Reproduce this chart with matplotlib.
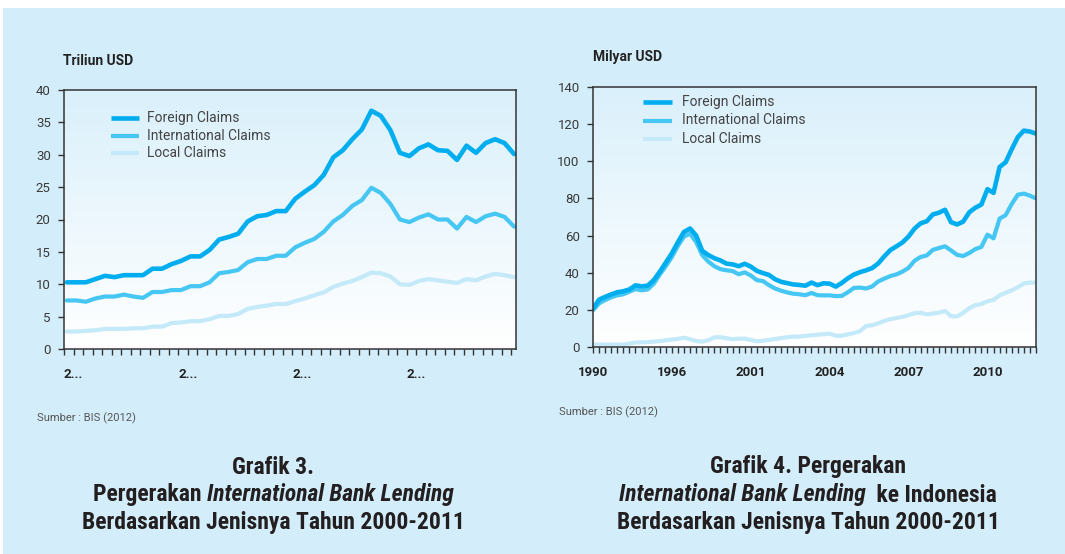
import numpy as np
import matplotlib
matplotlib.use("Agg")
import matplotlib.pyplot as plt
from matplotlib.lines import Line2D
from matplotlib import font_manager

# ---------------- data ----------------
# Grafik 3: international bank lending by type (trillion USD), quarterly 2000-2011
global_foreign = [10.3, 10.3, 10.3, 10.8, 11.3, 11.1, 11.4, 11.4, 11.4, 12.4, 12.4, 13.1,
                  13.6, 14.3, 14.3, 15.3, 16.9, 17.3, 17.8, 19.7, 20.5, 20.7, 21.3, 21.3,
                  23.2, 24.3, 25.3, 26.9, 29.6, 30.7, 32.4, 33.9, 36.8, 36.0, 33.8, 30.3,
                  29.8, 31.0, 31.6, 30.7, 30.6, 29.2, 31.4, 30.3, 31.8, 32.4, 31.8, 30.1]
global_international = [7.5, 7.5, 7.3, 7.8, 8.1, 8.1, 8.4, 8.1, 7.9, 8.8, 8.8, 9.1,
                        9.1, 9.7, 9.7, 10.3, 11.7, 11.9, 12.2, 13.4, 13.9, 13.9, 14.4, 14.4,
                        15.7, 16.4, 17.0, 18.1, 19.7, 20.7, 22.1, 23.0, 24.9, 24.1, 22.4, 20.0,
                        19.6, 20.3, 20.8, 20.0, 20.0, 18.6, 20.4, 19.6, 20.5, 20.9, 20.4, 18.9]
global_local = [2.7, 2.7, 2.8, 2.9, 3.1, 3.1, 3.1, 3.2, 3.2, 3.45, 3.45, 4.0,
                4.1, 4.3, 4.3, 4.6, 5.1, 5.1, 5.4, 6.2, 6.5, 6.7, 6.95, 6.95,
                7.4, 7.8, 8.3, 8.75, 9.6, 10.1, 10.5, 11.1, 11.8, 11.7, 11.2, 10.0,
                9.9, 10.5, 10.8, 10.6, 10.4, 10.2, 10.8, 10.6, 11.2, 11.6, 11.4, 11.1]
global_tick_labels = {0: "2...", 12: "2...", 24: "2...", 36: "2..."}

# Grafik 4: international bank lending to Indonesia (billion USD)
indo_foreign = [20.7, 25.5, 27.0, 28.3, 29.5, 30.0, 31.0, 33.2, 32.7, 33.0,
                36.0, 40.5, 45.5, 50.5, 56.5, 62.0, 63.8, 60.0, 51.8, 49.5,
                47.8, 46.6, 44.9, 44.5, 43.5, 44.8, 43.3, 41.0, 39.8, 38.8,
                36.5, 35.1, 34.4, 33.7, 33.4, 33.0, 34.7, 33.3, 34.3, 34.1,
                32.5, 34.5, 37.0, 39.0, 40.3, 41.3, 42.5, 45.0, 48.8, 52.2,
                54.2, 56.3, 59.5, 63.8, 66.6, 67.7, 71.4, 72.3, 73.9, 67.2,
                66.0, 67.5, 72.5, 75.0, 76.7, 85.0, 83.0, 96.9, 99.5, 106.5,
                113.0, 116.5, 116.0, 114.9]
indo_international = [19.8, 23.5, 25.3, 26.8, 27.8, 28.4, 29.8, 31.2, 30.5, 31.0,
                      34.0, 39.0, 43.5, 48.5, 54.5, 59.5, 61.0, 56.5, 49.5, 46.0,
                      43.5, 41.9, 41.3, 40.9, 39.2, 40.2, 38.5, 36.0, 35.5, 33.3,
                      31.5, 30.3, 29.4, 28.7, 28.4, 27.9, 29.1, 27.9, 27.8, 27.8,
                      27.4, 27.5, 29.5, 31.8, 32.0, 31.5, 32.6, 35.3, 36.8, 38.2,
                      39.1, 40.6, 42.6, 46.5, 48.5, 49.3, 52.3, 53.3, 54.2, 52.0,
                      49.6, 49.0, 50.6, 52.7, 53.9, 60.5, 58.5, 69.1, 71.0, 77.0,
                      82.0, 82.6, 81.5, 80.0]
indo_local = [1.3, 1.3, 1.3, 1.3, 1.3, 1.3, 1.8, 2.4, 2.5, 2.6,
              2.9, 3.2, 3.6, 4.0, 4.4, 5.0, 4.2, 3.2, 2.9, 3.6,
              5.2, 5.3, 4.7, 4.2, 4.5, 4.5, 3.8, 3.1, 3.4, 3.8,
              4.3, 4.8, 5.3, 5.6, 5.6, 6.0, 6.3, 6.6, 6.9, 7.2,
              6.0, 6.1, 6.8, 7.5, 8.5, 11.3, 11.7, 12.8, 14.0, 15.0,
              15.6, 16.2, 17.2, 18.2, 18.4, 17.6, 18.0, 18.5, 19.4, 16.6,
              16.5, 18.4, 20.9, 22.5, 23.2, 24.6, 25.4, 27.8, 29.2, 30.5,
              32.2, 34.2, 34.7, 34.7]
indo_tick_labels = {0: "1990", 13: "1996", 26: "2001", 39: "2004", 52: "2007", 65: "2010"}

series_names = ["Foreign Claims", "International Claims", "Local Claims"]

# ---------------- style ----------------
W, H = 1065, 554
BG = "#d3eefa"
C_FOREIGN = "#00aeef"
C_INTL = "#45c6f3"
C_LOCAL = "#c4e9f9"
INK = "#333333"
CAPTION_INK = "#231f20"
colors = [C_FOREIGN, C_INTL, C_LOCAL]
widths = [3.3, 3.0, 3.0]

fonts = font_manager.fontManager.ttflist
names = {f.name for f in fonts}
UI_FONT = "Roboto" if "Roboto" in names else "DejaVu Sans"


def pick_caption_font():
    """Prefer a condensed/narrow bold sans for the captions."""
    preferred = ["Liberation Sans Narrow", "Roboto Condensed", "Open Sans Condensed",
                 "Noto Sans Condensed", "DejaVu Sans Condensed", "Arial Narrow"]
    for p in preferred:
        if p in names:
            return p, "normal"
    for f in fonts:
        if f.stretch in ("condensed", "semi-condensed") and \
                ("Sans" in f.name or "Roboto" in f.name):
            return f.name, f.stretch
    return "Liberation Sans", "normal"


CAP_FONT, CAP_STRETCH = pick_caption_font()
CAP_SIZE = 17 if CAP_FONT != "Liberation Sans" else 14.5

plt.rcParams["font.family"] = [UI_FONT, "DejaVu Sans"]

fig = plt.figure(figsize=(W / 100, H / 100), dpi=100)
fig.patch.set_facecolor("white")
fig.patches.append(plt.Rectangle((3 / W, 0), 1 - 3 / W, 1 - 8 / H,
                                 transform=fig.transFigure, facecolor=BG,
                                 edgecolor="none", zorder=-10))


def px_axes(x0, y0, x1, y1):
    return fig.add_axes([x0 / W, 1 - y1 / H, (x1 - x0) / W, (y1 - y0) / H])


def gradient(ax):
    grad = np.linspace(0, 1, 256).reshape(-1, 1)
    cmap = matplotlib.colors.LinearSegmentedColormap.from_list(
        "bgfade", ["#ffffff", "#daf0fb"])
    ax.imshow(grad, cmap=cmap, origin="lower", aspect="auto",
              extent=[0, 1, 0, 1], transform=ax.transAxes, zorder=0)


def style_axes(ax):
    ax.set_facecolor("white")
    for s in ax.spines.values():
        s.set_color(INK)
        s.set_linewidth(1.1)
        s.set_zorder(5)
    ax.tick_params(axis="both", which="both", direction="out", color=INK,
                   width=1.0, length=4.5)
    ax.tick_params(axis="y", labelsize=9.5, labelcolor="#3a3a3a", pad=5)
    ax.tick_params(axis="x", labelsize=9.5, labelcolor="#222222", pad=9)


def legend(ax_px_x, rows_y, gap, line_len):
    for name, c, lw, y in zip(series_names, colors, widths, rows_y):
        fig.add_artist(Line2D([ax_px_x / W, (ax_px_x + line_len) / W],
                              [1 - y / H, 1 - y / H], color=c, lw=lw,
                              transform=fig.transFigure, solid_capstyle="butt"))
        fig.text((ax_px_x + line_len + gap) / W, 1 - y / H, name,
                 fontsize=10, color="#444444", va="center", ha="left")


# ---------------- Grafik 3 ----------------
ax1 = px_axes(64, 90, 516, 349)
gradient(ax1)
x1 = np.arange(len(global_foreign))
for vals, c, lw, z in [(global_local, C_LOCAL, 3.0, 2),
                       (global_international, C_INTL, 3.0, 3),
                       (global_foreign, C_FOREIGN, 3.3, 4)]:
    ax1.plot(x1, vals, color=c, lw=lw, solid_joinstyle="round",
             solid_capstyle="round", zorder=z)
ax1.set_xlim(-0.3, 47.2)
ax1.set_ylim(0, 40)
ax1.set_yticks(np.arange(0, 41, 5))
ax1.set_xticks(np.arange(48) - 0.3, minor=True)
ax1.set_xticks([k - 0.3 for k in global_tick_labels])
ax1.set_xticklabels(list(global_tick_labels.values()), fontweight="bold", ha="left")
style_axes(ax1)

fig.text(63 / W, 1 - 61 / H, "Triliun USD", fontsize=10, fontweight="bold",
         color="#222222", va="center", ha="left")
legend(111, [118, 135.5, 153], 8, 28)
fig.text(37 / W, 1 - 418 / H, "Sumber : BIS (2012)", fontsize=8,
         color="#555555", va="center", ha="left")

# ---------------- Grafik 4 ----------------
ax2 = px_axes(593, 87, 1036, 347)
gradient(ax2)
x2 = np.arange(len(indo_foreign))
for vals, c, lw, z in [(indo_local, C_LOCAL, 3.0, 2),
                       (indo_international, C_INTL, 3.0, 3),
                       (indo_foreign, C_FOREIGN, 3.3, 4)]:
    ax2.plot(x2, vals, color=c, lw=lw, solid_joinstyle="round",
             solid_capstyle="round", zorder=z)
ax2.set_xlim(0, len(indo_foreign) - 1)
ax2.set_ylim(0, 140)
ax2.set_yticks(np.arange(0, 141, 20))
ax2.set_xticks(x2, minor=True)
ax2.set_xticks(list(indo_tick_labels))
ax2.set_xticklabels(list(indo_tick_labels.values()), fontweight="bold")
style_axes(ax2)

fig.text(593 / W, 1 - 57 / H, "Milyar USD", fontsize=10, fontweight="bold",
         color="#222222", va="center", ha="left")
legend(643, [102, 120.5, 139], 10, 29)
fig.text(559 / W, 1 - 412 / H, "Sumber : BIS (2012)", fontsize=8,
         color="#555555", va="center", ha="left")

# ---------------- captions ----------------


def caption_line(cx, y, parts):
    texts = []
    for s, style in parts:
        texts.append(fig.text(0, 1 - y / H, s, fontsize=CAP_SIZE, fontweight="bold",
                              fontstyle=style, fontstretch=CAP_STRETCH,
                              family=[CAP_FONT, "Liberation Sans", "DejaVu Sans"],
                              color=CAPTION_INK, va="center", ha="left"))
    fig.canvas.draw()
    r = fig.canvas.get_renderer()
    ws = [t.get_window_extent(r).width for t in texts]
    x = cx - sum(ws) / 2
    for t, w in zip(texts, ws):
        t.set_x(x / W)
        x += w


caption_line(273, 467, [("Grafik 3.", "normal")])
caption_line(273, 495, [("Pergerakan ", "normal"), ("International Bank Lending", "italic")])
caption_line(273, 522, [("Berdasarkan Jenisnya Tahun 2000-2011", "normal")])
caption_line(808, 467, [("Grafik 4. Pergerakan", "normal")])
caption_line(808, 495, [("International Bank Lending ", "italic"), (" ke Indonesia", "normal")])
caption_line(808, 522, [("Berdasarkan Jenisnya Tahun 2000-2011", "normal")])

fig.savefig("out.png", dpi=100, facecolor=fig.get_facecolor())
